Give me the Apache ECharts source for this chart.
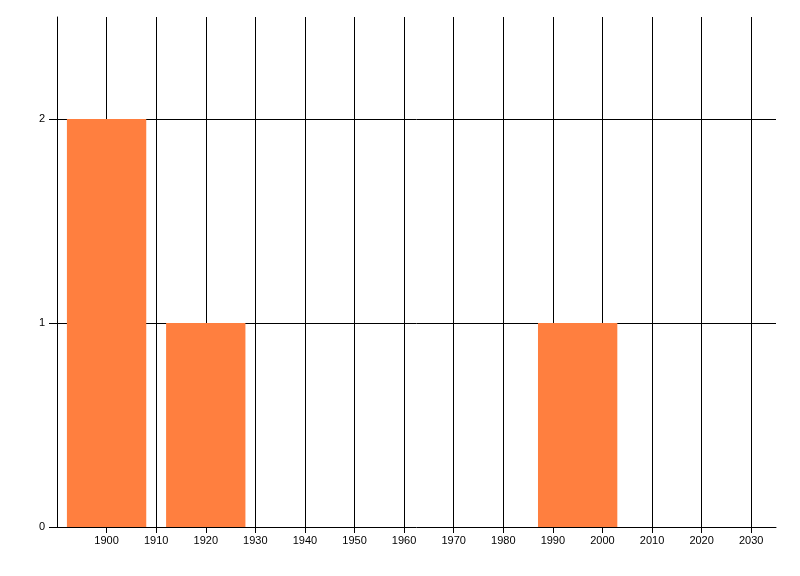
<!DOCTYPE html>
<html>
<head>
<meta charset="utf-8">
<script src="https://cdn.jsdelivr.net/npm/echarts@6/dist/echarts.min.js"></script>
<style>
html,body{margin:0;padding:0;background:#fff;}
#chart{width:800px;height:576px;}
</style>
</head>
<body>
<div id="chart"></div>
<script>
// Data
const binCenters = [1900, 1920, 1995];
const counts = [2, 1, 1];
const binWidth = 16;
const xTickValues = [1900, 1910, 1920, 1930, 1940, 1950, 1960, 1970, 1980, 1990, 2000, 2010, 2020, 2030];
const yTickValues = [0, 1, 2];

const barColor = '#ff7f3f';
const font = '"Liberation Sans", Arial, sans-serif';

const chart = echarts.init(document.getElementById('chart'), null, {renderer: 'canvas'});
const seriesData = binCenters.map((c, i) => [c, counts[i]]);

chart.setOption({
  animation: false,
  backgroundColor: '#fff',
  grid: {left: 57, right: 24, top: 17, bottom: 49, containLabel: false},
  xAxis: {
    type: 'value',
    min: 1890,
    max: 2035,
    interval: 10,
    axisLine: {show: true, lineStyle: {color: '#000', width: 1}},
    axisTick: {show: true, length: 6, customValues: xTickValues, lineStyle: {color: '#000'}},
    axisLabel: {
      show: true, customValues: xTickValues, margin: 8,
      color: '#000', fontSize: 11, fontFamily: font,
      formatter: v => String(v)
    },
    splitLine: {show: true, showMinLine: true, showMaxLine: true, lineStyle: {color: '#000', width: 1}}
  },
  yAxis: {
    type: 'value',
    min: 0,
    max: 2.5,
    interval: 1,
    axisLine: {show: true, lineStyle: {color: '#000', width: 1}},
    axisTick: {show: true, length: 8, customValues: yTickValues, lineStyle: {color: '#000'}},
    axisLabel: {
      show: true, customValues: yTickValues, margin: 12,
      color: '#000', fontSize: 11, fontFamily: font,
      formatter: v => String(v)
    },
    splitLine: {show: true, showMinLine: false, showMaxLine: true, lineStyle: {color: '#000', width: 1}}
  },
  series: [{
    type: 'custom',
    data: seriesData,
    encode: {x: 0, y: 1},
    renderItem: function (params, api) {
      const x = api.value(0), y = api.value(1);
      const p0 = api.coord([x - binWidth / 2, y]);
      const p1 = api.coord([x + binWidth / 2, 0]);
      return {
        type: 'rect',
        shape: {x: p0[0], y: p0[1], width: p1[0] - p0[0], height: p1[1] - p0[1]},
        style: {fill: barColor}
      };
    }
  }]
});
</script>
</body>
</html>
